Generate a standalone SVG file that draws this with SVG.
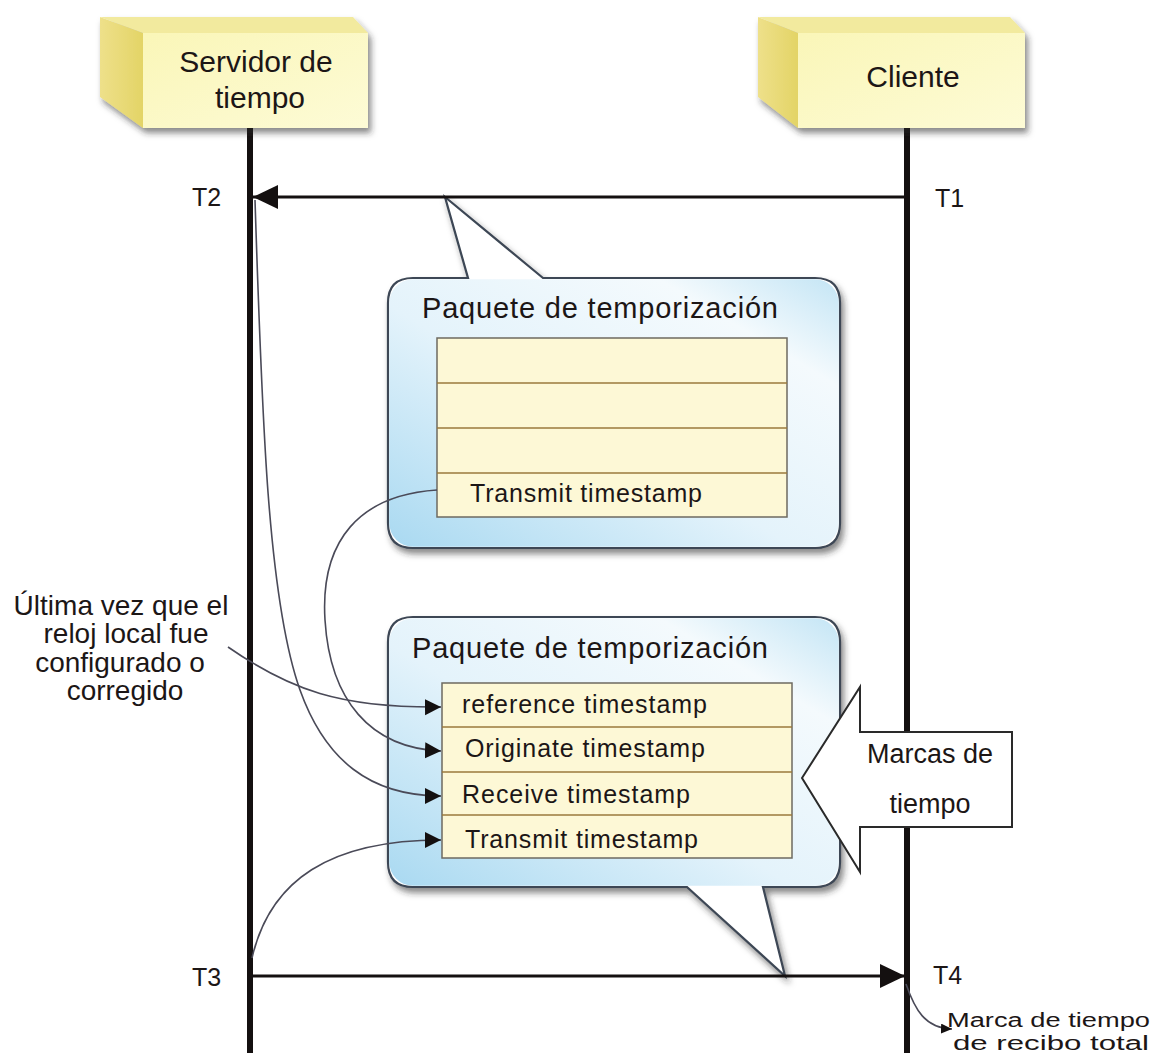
<svg xmlns="http://www.w3.org/2000/svg" width="1153" height="1053" viewBox="0 0 1153 1053">
<style>
  text { font-family: "Liberation Sans", Arial, sans-serif; fill: #1c1616; }
  .hdr { font-size: 30px; text-anchor: middle; }
  .t { font-size: 25px; }
  .title { font-size: 29px; }
  .row { font-size: 25px; }
  .note { font-size: 28px; text-anchor: middle; }
  .small { font-size: 21px; }
  .life { stroke: #141010; stroke-width: 6; fill: none; }
  .msg { stroke: #141010; stroke-width: 3; fill: none; }
  .curve { stroke: #4a4a58; stroke-width: 1.6; fill: none; }
  .tbl { fill: #fdf8d6; stroke: #6d6a60; stroke-width: 1.5; }
  .sep { stroke: #9a7a3c; stroke-width: 1.5; }
  .callout { fill: #ffffff; stroke: #3c4654; stroke-width: 2.2; }
  .cfill { fill: url(#blueg); }
  .side { fill: url(#sideg); }
  .top { fill: #f2ea9e; }
  .front { fill: url(#frontg); }
</style>
<defs>
  <linearGradient id="blueg" x1="0" y1="1" x2="1" y2="0">
    <stop offset="0" stop-color="#a9d9f1"/>
    <stop offset="0.45" stop-color="#e4f3fb"/>
    <stop offset="0.8" stop-color="#f4fafd"/>
    <stop offset="1" stop-color="#c4e5f5"/>
  </linearGradient>
  <linearGradient id="sideg" x1="0" y1="0" x2="1" y2="0">
    <stop offset="0" stop-color="#eee08a"/>
    <stop offset="1" stop-color="#e3d466"/>
  </linearGradient>
  <linearGradient id="frontg" x1="0" y1="0" x2="1" y2="1">
    <stop offset="0" stop-color="#faf6b8"/>
    <stop offset="1" stop-color="#fdfbd6"/>
  </linearGradient>
  <filter id="shadow" x="-10%" y="-10%" width="125%" height="130%">
    <feDropShadow dx="3" dy="5" stdDeviation="3" flood-color="#2a2a2a" flood-opacity="0.55"/>
  </filter>
  <marker id="bigArrow" markerUnits="userSpaceOnUse" markerWidth="26" markerHeight="26" refX="25" refY="12" orient="auto">
    <path d="M0,0 L25,12 L0,24 z" fill="#141010"/>
  </marker>
  <marker id="smallArrow" markerUnits="userSpaceOnUse" markerWidth="18" markerHeight="18" refX="16" refY="8" orient="auto">
    <path d="M0,0 L16,8 L0,16 z" fill="#141010"/>
  </marker>
  <marker id="tinyArrow" markerUnits="userSpaceOnUse" markerWidth="12" markerHeight="12" refX="11" refY="5" orient="auto">
    <path d="M0,0 L11,5 L0,10 z" fill="#141010"/>
  </marker>
</defs>

<rect width="1153" height="1053" fill="#ffffff"/>

<!-- Lifelines -->
<g id="lifelines">
  <line class="life" x1="250" y1="128" x2="250" y2="1053"/>
  <line class="life" x1="907" y1="128" x2="907" y2="1053"/>
</g>

<!-- Server node -->
<g id="node-servidor">
  <g filter="url(#shadow)">
    <polygon class="side" points="100,17 143,33 143,128 100,97"/>
    <polygon class="top" points="100,17 353,17 368,33 143,33"/>
    <rect class="front" x="143" y="33" width="225" height="95"/>
  </g>
  <text class="hdr" x="256" y="72">Servidor de</text>
  <text class="hdr" x="260" y="108">tiempo</text>
</g>

<!-- Client node -->
<g id="node-cliente">
  <g filter="url(#shadow)">
    <polygon class="side" points="758,17 798,33 798,128 758,97"/>
    <polygon class="top" points="758,17 1010,17 1025,33 798,33"/>
    <rect class="front" x="798" y="33" width="227" height="95"/>
  </g>
  <text class="hdr" x="913" y="87">Cliente</text>
</g>

<!-- Time labels -->
<g id="time-labels">
  <text class="t" x="192" y="206">T2</text>
  <text class="t" x="935" y="207">T1</text>
  <text class="t" x="192" y="986">T3</text>
  <text class="t" x="933" y="984">T4</text>
</g>

<!-- Callout 1 -->
<g id="callout-1">
  <path class="callout" filter="url(#shadow)" d="M413,278 L468,278 L445,197 L543,278 L815,278 Q840,278 840,303 L840,523 Q840,548 815,548 L413,548 Q388,548 388,523 L388,303 Q388,278 413,278 Z"/>
  <rect class="cfill" x="389.2" y="279.2" width="449.6" height="267.6" rx="24"/>
  <text class="title" x="422" y="318" textLength="356">Paquete de temporización</text>
  <rect class="tbl" x="437" y="338" width="350" height="179"/>
  <line class="sep" x1="437" y1="383" x2="787" y2="383"/>
  <line class="sep" x1="437" y1="428" x2="787" y2="428"/>
  <line class="sep" x1="437" y1="473" x2="787" y2="473"/>
  <text class="row" x="470" y="502" textLength="232">Transmit timestamp</text>
</g>

<!-- Callout 2 -->
<g id="callout-2">
  <path class="callout" filter="url(#shadow)" d="M413,617 L815,617 Q840,617 840,642 L840,862 Q840,887 815,887 L763,887 L785,976 L687,887 L413,887 Q388,887 388,862 L388,642 Q388,617 413,617 Z"/>
  <rect class="cfill" x="389.2" y="618.2" width="449.6" height="267.6" rx="24"/>
  <text class="title" x="412" y="658" textLength="356">Paquete de temporización</text>
  <rect class="tbl" x="442" y="683" width="350" height="175"/>
  <line class="sep" x1="442" y1="727" x2="792" y2="727"/>
  <line class="sep" x1="442" y1="772" x2="792" y2="772"/>
  <line class="sep" x1="442" y1="815" x2="792" y2="815"/>
  <text class="row" x="462" y="713" textLength="245">reference timestamp</text>
  <text class="row" x="465" y="757" textLength="240">Originate timestamp</text>
  <text class="row" x="462" y="803" textLength="228">Receive timestamp</text>
  <text class="row" x="465" y="848" textLength="233">Transmit timestamp</text>
</g>

<!-- Block arrow: Marcas de tiempo -->
<g id="marcas">
  <polygon points="802,778 860,687 860,732 1012,732 1012,827 860,827 860,872" fill="#ffffff" stroke="#2a2a2a" stroke-width="2"/>
  <text class="note" x="930" y="763" style="font-size:27px">Marcas de</text>
  <text class="note" x="930" y="813" style="font-size:27px">tiempo</text>
</g>

<!-- Left note -->
<g id="note-ultima">
  <text class="note" x="121" y="615">Última vez que el</text>
  <text class="note" x="126" y="643">reloj local fue</text>
  <text class="note" x="120" y="672">configurado o</text>
  <text class="note" x="125" y="700">corregido</text>
</g>

<!-- Bottom right note -->
<g id="note-marca">
  <text class="small" x="947" y="1027" style="font-size:20px" textLength="203" lengthAdjust="spacingAndGlyphs">Marca de tiempo</text>
  <text class="small" x="953" y="1050" style="font-size:20px" textLength="196" lengthAdjust="spacingAndGlyphs">de recibo total</text>
</g>

<!-- Connectors -->
<g id="connectors">
  <line class="msg" x1="907" y1="197" x2="253" y2="197" marker-end="url(#bigArrow)"/>
  <line class="msg" x1="250" y1="976" x2="905" y2="976" marker-end="url(#bigArrow)"/>
  <path class="curve" d="M228,647 C290,690 340,708 441,707" marker-end="url(#smallArrow)"/>
  <path class="curve" d="M437,490 C360,495 320,540 325,620 C330,700 370,748 441,751" marker-end="url(#smallArrow)"/>
  <path class="curve" d="M255,200 C262,420 268,600 300,690 C325,760 370,796 441,796" marker-end="url(#smallArrow)"/>
  <path class="curve" d="M252,958 C270,880 330,840 441,840" marker-end="url(#smallArrow)"/>
  <path class="curve" d="M906,984 C915,1010 925,1028 952,1029" marker-end="url(#tinyArrow)"/>
</g>
</svg>
